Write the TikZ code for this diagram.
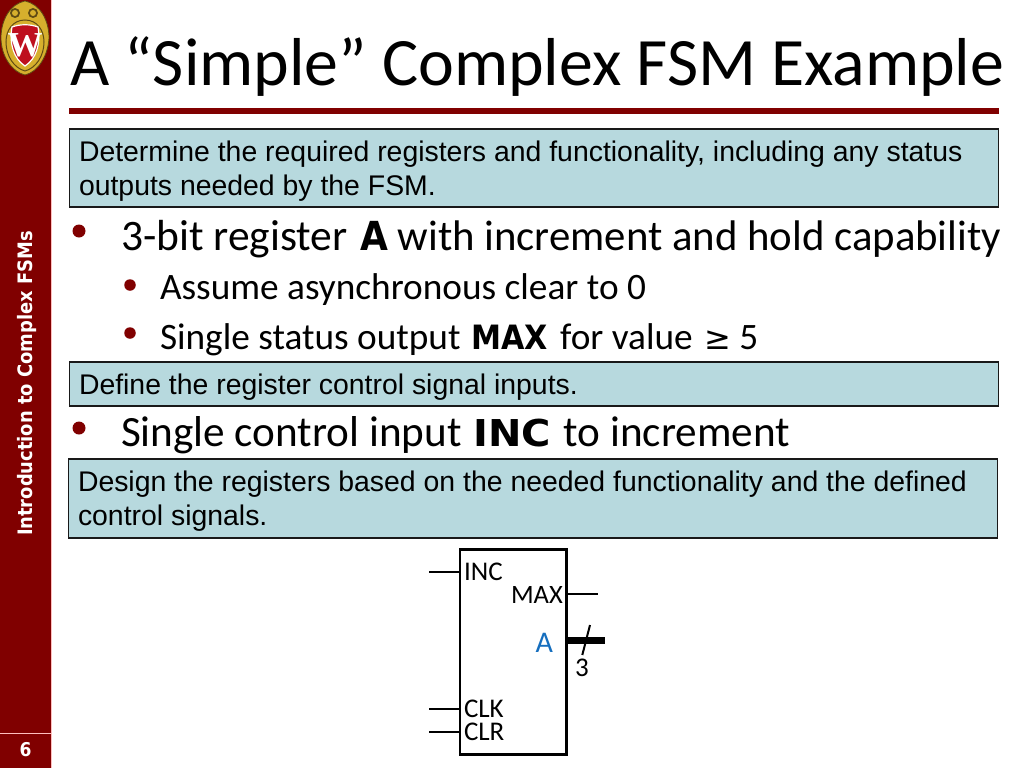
\documentclass[tikz,border=0pt]{standalone}
\usepackage{fontspec}
\setmainfont{Carlito}
\newfontfamily\arialf{Liberation Sans}
\newfontfamily\serf{Liberation Serif}
\newfontfamily\tahf{DejaVu Sans Condensed}[BoldFont={DejaVu Sans Condensed Bold}]
\newfontfamily\dvb{DejaVu Sans Condensed Bold}
\newfontfamily\dvbw{DejaVu Sans Condensed Bold}[FakeStretch=1.2]
\newfontfamily\dvs{DejaVu Sans}
\definecolor{wred}{RGB}{128,0,0}
\definecolor{boxfill}{RGB}{183,217,222}
\definecolor{ablue}{RGB}{21,110,190}
\definecolor{pinkline}{RGB}{255,190,190}
\definecolor{logogold}{RGB}{214,175,45}
\definecolor{logodark}{RGB}{95,75,20}
\definecolor{logored}{RGB}{190,15,30}
\newcommand{\fs}[1]{\fontsize{#1}{#1}\selectfont}
\tikzset{
  x=1pt,y=-1pt,
  txt/.style={anchor=base west,inner sep=0pt,outer sep=0pt,text=black},
  bigtxt/.style={txt,font=\fs{43.2}},
  subtxt/.style={txt,font=\fs{37.3}},
  bul/.style={circle,fill=wred,inner sep=0pt,minimum size=13pt},
  sbul/.style={circle,fill=wred,inner sep=0pt,minimum size=11.5pt},
  notebox/.style={draw=black!90,fill=boxfill,line width=1.8pt,inner sep=0pt},
  boxtxt/.style={txt,font=\arialf\fs{28.4}},
  pin/.style={txt,font=\fs{27}},
  wire/.style={line width=2pt,black}
}
\begin{document}
\begin{tikzpicture}
\useasboundingbox (0,0) rectangle (1024,768);
\fill[white] (0,0) rectangle (1024,768);
% sidebar
\fill[wred] (0,0) rectangle (51,768);
\draw[pinkline,line width=1pt] (51,0) -- (51,768);
\draw[pinkline,line width=1.2pt] (0,733.5) -- (51,733.5);
\node[font=\tahf\bfseries\fs{19},text=white,inner sep=0pt] (pagenum) at (25.5,750) {6};
\node[font=\tahf\bfseries\fs{19.9},text=white,rotate=90,inner sep=0pt] (side) at (27.5,383.5) {Introduction to Complex FSMs};
% logo
\fill[logogold,draw=logodark,line width=.8pt] (25,1) .. controls (40,4) and (49,20) .. (49,38) .. controls (48,56) and (38,72) .. (25,75) .. controls (12,72) and (1,56) .. (1,38) .. controls (1,20) and (10,4) .. (25,1) -- cycle;
\draw[logodark,line width=1pt] (25,20) .. controls (37,20) and (44,30) .. (44,42) .. controls (44,56) and (36,68) .. (25,71) .. controls (14,68) and (6,56) .. (6,42) .. controls (6,30) and (13,20) .. (25,20) -- cycle;
\fill[logodark] (15,13) circle (5) (33,13) circle (5);
\fill[logogold] (15,13) circle (3) (33,13) circle (3);
\fill[logored,draw=white,line width=1.2pt] (12,27) .. controls (20,24) and (30,24) .. (38,27) .. controls (41,44) and (36,59) .. (25,66) .. controls (14,59) and (9,44) .. (12,27) -- cycle;
\node[font=\serf\bfseries\fs{35},text=white,inner sep=0pt] (logow) at (25,45) {W};
% title
\node[txt,font=\fs{67.8}] (title) at (70,85) {A “Simple” Complex FSM Example};
\fill[wred] (69,108) rectangle (999,113.5);
% box 1
\node[notebox,minimum width=929pt,minimum height=78pt,anchor=north west] (box1) at (68.5,128) {};
\node[boxtxt] (b1a) at (79,161) {Determine the required registers and functionality, including any status};
\node[boxtxt] (b1b) at (79,195) {outputs needed by the FSM.};
% bullets
\node[bul] (d1) at (79,231) {};
\node[bigtxt] (t1) at (121,250) {{\fs{43.5}3-bit register}\hspace{2.5pt} {\dvb\fs{40}A} {\fs{42.8}with increment and hold capability}};
\node[sbul] (d2) at (130,285) {};
\node[subtxt] (t2) at (160,299) {Assume asynchronous clear to 0};
\node[sbul] (d3) at (130,333) {};
\node[subtxt] (t3) at (160,349) {Single status output\hspace{2pt} {\dvb\fs{33.5}MAX}\hspace{4pt} for value\hspace{3pt} {\dvs\fs{32}≥} 5};
% box 2
\node[notebox,minimum width=929pt,minimum height=44pt,anchor=north west] (box2) at (68.5,361) {};
\node[boxtxt] (b2a) at (79,394) {Define the register control signal inputs.};
\node[bul] (d4) at (79,428) {};
\node[bigtxt] (t4) at (121,446) {Single control input\hspace{2pt} {\dvbw\fs{37}INC}\hspace{3pt} to increment};
% box 3
\node[notebox,minimum width=929pt,minimum height=79pt,anchor=north west] (box3) at (67.5,458) {};
\node[boxtxt] (b3a) at (78,491) {Design the registers based on the needed functionality and the defined};
\node[boxtxt] (b3b) at (78,525) {control signals.};
% register
\node[draw=black,fill=white,line width=2.5pt,minimum width=106.7pt,minimum height=205pt,anchor=north west,inner sep=0pt,outer sep=0pt] (reg) at (460,549.3) {};
\coordinate (incL) at (429,571.7);
\coordinate (incR) at (reg.west |- incL);
\coordinate (clkL) at (429,709);
\coordinate (clkR) at (reg.west |- clkL);
\coordinate (clrL) at (429,731.7);
\coordinate (clrR) at (reg.west |- clrL);
\coordinate (maxR) at (598,594.3);
\coordinate (maxL) at (reg.east |- maxR);
\coordinate (aR) at (605,640.5);
\coordinate (aL) at (reg.east |- aR);
\coordinate (slashA) at (590,625);
\coordinate (slashB) at (582.3,655);
\draw[wire] (incL) -- (incR);
\draw[wire] (clkL) -- (clkR);
\draw[wire] (clrL) -- (clrR);
\draw[wire] (maxL) -- (maxR);
\draw[black,line width=7pt] (aL) -- (aR);
\draw[wire] (slashA) -- (slashB);
\node[pin] (inc) at (464,580) {INC};
\node[pin,font=\fs{26.5}] (max) at (511,603) {MAX};
\node[pin,text=ablue,font=\fs{30}] (aa) at (535.5,652) {A};
\node[pin] (three) at (575,676) {3};
\node[pin] (clk) at (464,717) {CLK};
\node[pin] (clr) at (464,740) {CLR};
\end{tikzpicture}
\end{document}
